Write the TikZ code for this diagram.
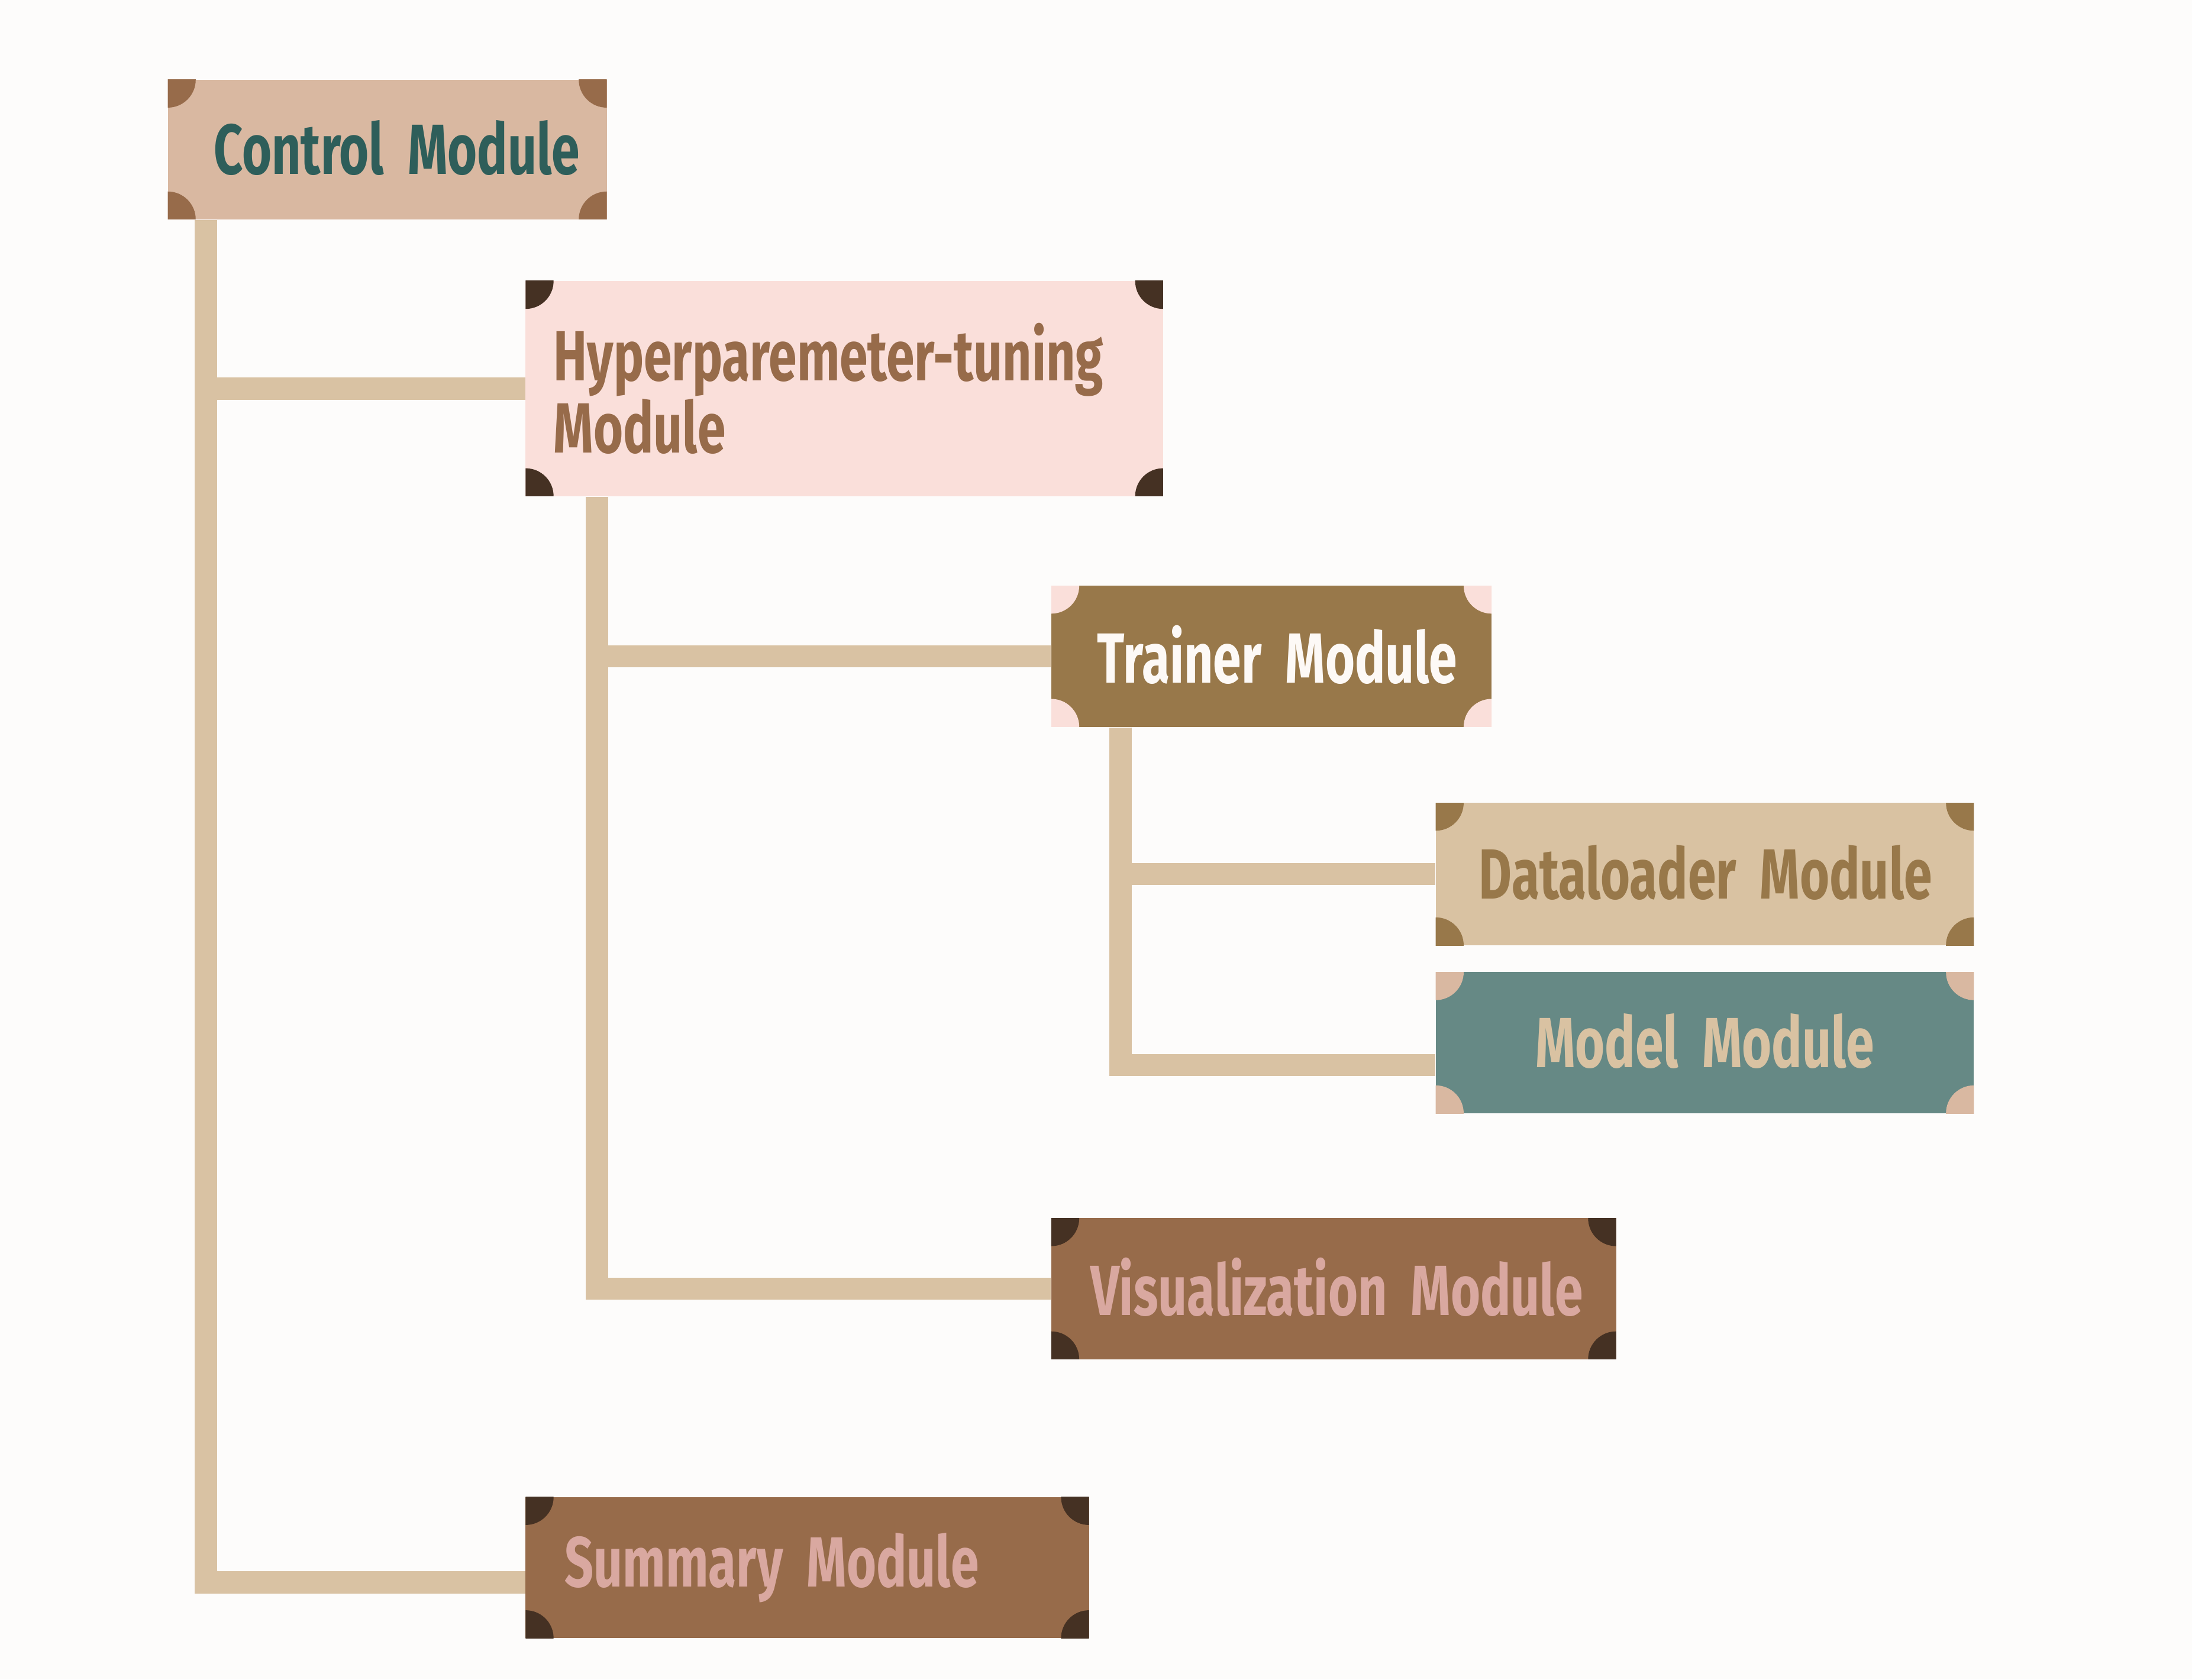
\documentclass[tikz,border=0pt]{standalone}
\usepackage{fontspec}
\newfontfamily\modfont[FakeStretch=0.715,WordSpace=0.75]{Fira Sans}
\definecolor{bgcol}{HTML}{FDFCFB}
\definecolor{linecol}{HTML}{D9C2A3}
\definecolor{tan}{HTML}{D9B8A1}
\definecolor{brown}{HTML}{976B4A}
\definecolor{teal}{HTML}{2E5E5A}
\definecolor{blush}{HTML}{FADFDA}
\definecolor{darkbrown}{HTML}{453123}
\definecolor{olive}{HTML}{98784A}
\definecolor{offwhite}{HTML}{FDF9F6}
\definecolor{sand}{HTML}{D9C2A2}
\definecolor{sage}{HTML}{668985}
\definecolor{rose}{HTML}{D9A8A0}
\newcommand{\uplabel}[1]{\raisebox{1.6pt}{#1}}
\tikzset{
  mbox/.style n args={3}{rectangle, fill=#1, text=#3, inner ysep=0pt,
    font=\modfont\bfseries\fontsize{25.4pt}{26pt}\selectfont,
    path picture={
      \fill[#2] (path picture bounding box.north west) circle[radius=10pt];
      \fill[#2] (path picture bounding box.north east) circle[radius=10pt];
      \fill[#2] (path picture bounding box.south west) circle[radius=10pt];
      \fill[#2] (path picture bounding box.south east) circle[radius=10pt];
    }},
  conn/.style={draw=linecol, line width=7.95pt, line join=miter, line cap=butt}
}
\begin{document}
\begin{tikzpicture}[x=0.5pt, y=-0.5pt]
\fill[bgcol] (0,0) rectangle (1568,1201.5);
\useasboundingbox (0,0) rectangle (1568,1201.5);
% nodes (center positions in overview pixels)
\node[mbox={tan}{brown}{teal}, minimum width=157pt, minimum height=50pt,
  inner xsep=16.5pt, text width=124pt, align=left] (ctrl) at (277,107) {\uplabel{Control Module}};
\node[mbox={blush}{darkbrown}{brown}, minimum width=228pt, minimum height=77pt,
  inner xsep=10pt, text width=208pt, align=left] (hyper) at (604,278) {\mbox{Hyperparemeter-tuning}\\\mbox{Module}};
\node[mbox={olive}{blush}{offwhite}, minimum width=157.5pt, minimum height=50.5pt,
  inner xsep=16.5pt, text width=124.5pt, align=left] (trainer) at (909.5,469.5) {\uplabel{Trainer Module}};
\node[mbox={sand}{olive}{olive}, minimum width=192.5pt, minimum height=51pt,
  inner xsep=15.5pt, text width=161.5pt, align=left] (data) at (1219.5,625.3) {\uplabel{Dataloader Module}};
\node[mbox={sage}{tan}{sand}, minimum width=192.5pt, minimum height=50.5pt,
  inner xsep=10pt, text width=172.5pt, align=center] (model) at (1219.5,746) {\uplabel{Model Module}};
\node[mbox={brown}{darkbrown}{rose}, minimum width=202pt, minimum height=50.5pt,
  inner xsep=14pt, text width=174pt, align=left] (vis) at (954,922) {\uplabel{Visualization Module}};
\node[mbox={brown}{darkbrown}{rose}, minimum width=201.5pt, minimum height=50.5pt,
  inner xsep=14pt, text width=173.5pt, align=left] (summ) at (577.5,1121.5) {\uplabel{Summary Module}};
% connectors
\draw[conn] ([xshift=13.8pt]ctrl.south west) |- (hyper.west);
\draw[conn] ([xshift=13.8pt]ctrl.south west) |- ([yshift=-5.25pt]summ.west);
\draw[conn] ([xshift=25.75pt]hyper.south west) |- (trainer.west);
\draw[conn] ([xshift=25.75pt]hyper.south west) |- (vis.west);
\draw[conn] ([xshift=25pt]trainer.south west) |- (data.west);
\draw[conn] ([xshift=25pt]trainer.south west) |- ([yshift=-8pt]model.west);
\end{tikzpicture}
\end{document}
